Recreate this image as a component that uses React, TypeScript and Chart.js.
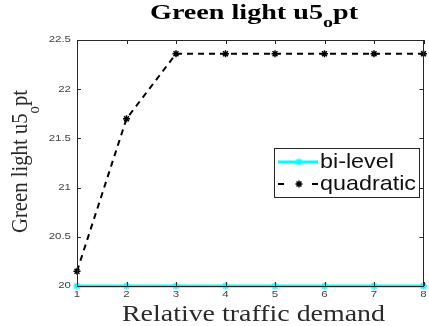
import React, { useEffect, useRef } from 'react';
import { Chart, registerables } from 'chart.js';
Chart.register(...registerables);

const categories = ['1', '2', '3', '4', '5', '6', '7', '8'];
const biLevel = [20, 20, 20, 20, 20, 20, 20, 20];
const quadratic = [20.15, 21.7, 22.36, 22.36, 22.36, 22.36, 22.36, 22.36];
const yTickValues = [20, 20.5, 21, 21.5, 22, 22.5];
const yTickLabels = ['20', '20.5', '21', '21.5', '22', '22.5'];
const seriesNames = ['bi-level', 'quadratic'];
const seriesColors = ['#00FFFF', '#000000'];
const titleParts = ['Green light u5', 'o', 'pt'];
const yTitleParts = ['Green light u5', 'o', 'pt'];
const xTitle = 'Relative traffic demand';

type Part = { text: string; font: string; dy: number };

function drawParts(ctx: CanvasRenderingContext2D, parts: Part[], x: number, y: number, targetWidth: number, color: string) {
  let total = 0;
  const widths: number[] = [];
  for (const p of parts) {
    ctx.font = p.font;
    const w = ctx.measureText(p.text).width;
    widths.push(w);
    total += w;
  }
  const sx = targetWidth / total;
  ctx.save();
  ctx.translate(x, y);
  ctx.scale(sx, 1);
  ctx.fillStyle = color;
  ctx.textBaseline = 'alphabetic';
  ctx.textAlign = 'left';
  let cx = 0;
  parts.forEach((p, i) => {
    ctx.font = p.font;
    ctx.fillText(p.text, cx, p.dy);
    cx += widths[i];
  });
  ctx.restore();
}

function drawStretched(ctx: CanvasRenderingContext2D, text: string, x: number, y: number, sx: number, align: 'left' | 'right' | 'center', font: string, color: string, baseline: CanvasTextBaseline) {
  ctx.save();
  ctx.font = font;
  ctx.fillStyle = color;
  ctx.textBaseline = baseline;
  const w = ctx.measureText(text).width * sx;
  let left = x;
  if (align === 'right') left = x - w;
  if (align === 'center') left = x - w / 2;
  ctx.translate(left, y);
  ctx.scale(sx, 1);
  ctx.textAlign = 'left';
  ctx.fillText(text, 0, 0);
  ctx.restore();
}

function drawStar(ctx: CanvasRenderingContext2D, x: number, y: number, r: number, color: string, lw: number) {
  ctx.save();
  ctx.strokeStyle = color;
  ctx.lineWidth = lw;
  ctx.setLineDash([]);
  ctx.beginPath();
  const d = r * Math.SQRT1_2;
  ctx.moveTo(x - d, y - d); ctx.lineTo(x + d, y + d);
  ctx.moveTo(x - d, y + d); ctx.lineTo(x + d, y - d);
  ctx.moveTo(x - r, y); ctx.lineTo(x + r, y);
  ctx.moveTo(x, y - r); ctx.lineTo(x, y + r);
  ctx.stroke();
  ctx.restore();
}

const decorPlugin = {
  id: 'decor',
  afterDraw(chart: any) {
    const ctx: CanvasRenderingContext2D = chart.ctx;
    const { left, right, top, bottom } = chart.chartArea;
    const xs = chart.scales.x;
    const ys = chart.scales.y;
    ctx.save();
    // frame
    ctx.strokeStyle = '#262626';
    ctx.lineWidth = 1;
    ctx.setLineDash([]);
    ctx.strokeRect(Math.round(left) + 0.5, Math.round(top) + 0.5, Math.round(right - left) - 1, Math.round(bottom - top));
    // ticks inside
    ctx.beginPath();
    categories.forEach((_, i) => {
      const px = Math.round(xs.getPixelForTick(i)) + 0.5;
      ctx.moveTo(px, bottom); ctx.lineTo(px, bottom - 4);
      ctx.moveTo(px, top); ctx.lineTo(px, top + 4);
    });
    yTickValues.forEach((v) => {
      const py = Math.round(ys.getPixelForValue(v)) + 0.5;
      ctx.moveTo(left, py); ctx.lineTo(left + 4, py);
      ctx.moveTo(right, py); ctx.lineTo(right - 4, py);
    });
    ctx.stroke();
    ctx.restore();

    // tick labels
    const tickFont = '8.5px "Liberation Sans", Arial, sans-serif';
    categories.forEach((c, i) => {
      const px = xs.getPixelForTick(i);
      drawStretched(ctx, c, px, 297, 1.35, 'center', tickFont, '#444', 'alphabetic');
    });
    yTickValues.forEach((v, i) => {
      const py = ys.getPixelForValue(v);
      drawStretched(ctx, yTickLabels[i], 71, py, 1.35, 'right', tickFont, '#444', 'middle');
    });

    // title
    drawParts(ctx, [
      { text: titleParts[0], font: 'bold 21px "Liberation Serif", "Times New Roman", serif', dy: 0 },
      { text: titleParts[1], font: 'bold 15px "Liberation Serif", "Times New Roman", serif', dy: 8 },
      { text: titleParts[2], font: 'bold 21px "Liberation Serif", "Times New Roman", serif', dy: 0 },
    ], 150, 19, 208, '#000');

    // x title
    drawParts(ctx, [
      { text: xTitle, font: '24px "Liberation Serif", "Times New Roman", serif', dy: 0 },
    ], 122, 321, 263, '#2b2b2b');

    // y title
    ctx.save();
    ctx.translate(27, 233);
    ctx.rotate(-Math.PI / 2);
    drawParts(ctx, [
      { text: yTitleParts[0], font: '24px "Liberation Serif", "Times New Roman", serif', dy: 0 },
      { text: yTitleParts[1], font: '17px "Liberation Serif", "Times New Roman", serif', dy: 12 },
      { text: yTitleParts[2], font: '24px "Liberation Serif", "Times New Roman", serif', dy: 0 },
    ], 0, 0, 143, '#2b2b2b');
    ctx.restore();

    // legend
    const bx = 274, by = 148, bw = 145, bh = 49;
    ctx.save();
    ctx.fillStyle = '#fff';
    ctx.fillRect(bx, by, bw, bh);
    ctx.strokeStyle = '#262626';
    ctx.lineWidth = 1;
    ctx.strokeRect(bx + 0.5, by + 0.5, bw, bh);
    const rows = [162, 184];
    const legendFont = '21px "Liberation Sans", Arial, sans-serif';
    ctx.font = legendFont;
    const sxL = 96 / ctx.measureText(seriesNames[1]).width;
    // row 1 cyan
    ctx.strokeStyle = seriesColors[0];
    ctx.lineWidth = 3;
    ctx.beginPath();
    ctx.moveTo(278, rows[0]); ctx.lineTo(318, rows[0]);
    ctx.stroke();
    drawStar(ctx, 299, rows[0], 3.5, seriesColors[0], 1.5);
    // row 2 dashed: dash, marker, dash
    ctx.strokeStyle = seriesColors[1];
    ctx.lineWidth = 2;
    ctx.beginPath();
    ctx.moveTo(278, rows[1]); ctx.lineTo(284, rows[1]);
    ctx.moveTo(312, rows[1]); ctx.lineTo(318, rows[1]);
    ctx.stroke();
    drawStar(ctx, 299, rows[1], 3.5, seriesColors[1], 1.5);
    ctx.restore();
    seriesNames.forEach((n, i) => {
      drawStretched(ctx, n, 320, rows[i], sxL, 'left', legendFont, '#111', 'middle');
    });
  },
};

export default function App() {
  const ref = useRef<HTMLCanvasElement | null>(null);
  useEffect(() => {
    document.body.style.margin = '0';
    const canvas = ref.current;
    if (!canvas) return;
    const chart = new Chart(canvas, {
      type: 'line',
      data: {
        labels: categories,
        datasets: [
          {
            label: seriesNames[0],
            data: biLevel,
            borderColor: seriesColors[0],
            backgroundColor: seriesColors[0],
            borderWidth: 3,
            pointStyle: 'star',
            pointRadius: 3.5,
            pointBorderWidth: 1.5,
            pointBorderColor: seriesColors[0],
            clip: false,
            tension: 0,
            order: 2,
          },
          {
            label: seriesNames[1],
            data: quadratic,
            borderColor: seriesColors[1],
            backgroundColor: seriesColors[1],
            borderWidth: 2,
            borderDash: [6, 5],
            pointStyle: 'star',
            pointRadius: 3.5,
            pointBorderWidth: 1.5,
            pointBorderColor: seriesColors[1],
            clip: false,
            tension: 0,
            order: 1,
          },
        ],
      },
      options: {
        responsive: false,
        animation: false,
        devicePixelRatio: 1,
        layout: { padding: { top: 40, right: 3, left: 0, bottom: 0 } },
        plugins: {
          legend: { display: false },
          title: { display: false },
          tooltip: { enabled: false },
        },
        scales: {
          x: {
            type: 'category',
            offset: false,
            grid: { display: false, drawTicks: false },
            border: { display: false },
            ticks: { display: false },
            afterFit: (s: any) => { s.height = 40; },
          },
          y: {
            type: 'linear',
            min: 20,
            max: 22.5,
            grid: { display: false, drawTicks: false },
            border: { display: false },
            ticks: { display: false, stepSize: 0.5 },
            afterFit: (s: any) => { s.width = 77; },
          },
        },
      },
      plugins: [decorPlugin],
    });
    return () => chart.destroy();
  }, []);
  return <canvas ref={ref} width={429} height={326} style={{ display: 'block' }} />;
}
